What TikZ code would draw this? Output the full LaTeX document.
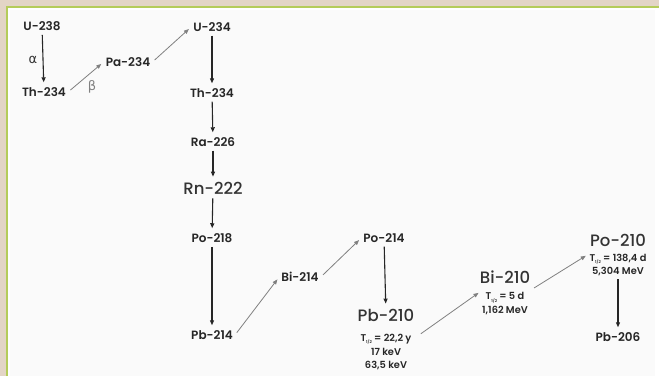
\documentclass[tikz,border=0pt]{standalone}
\usepackage{fontspec}
\setmainfont{Poppins}[BoldFont={* SemiBold}, FontFace={mb}{n}{* Medium}]
\newfontfamily\greekfont{DejaVu Sans}
\usetikzlibrary{arrows.meta}

\definecolor{framebg}{HTML}{E3D5C6}
\definecolor{frameline}{HTML}{B5CC5A}
\definecolor{panelbg}{HTML}{FAFAFA}
\newcommand{\halflife}{T\raisebox{-0.45ex}{\fontsize{4}{4}\selectfont 1/2}}

\begin{document}
\begin{tikzpicture}[x=1pt, y=-1pt,
        isotope/.style={text=black!85, font=\fontsize{12}{14}\selectfont\bfseries, inner sep=2pt},
        bigisotope/.style={text=black!80, font=\fontsize{16.5}{18}\fontseries{mb}\selectfont, inner sep=2pt},
        halfdata/.style={text=black!85, align=center, font=\fontsize{9.8}{13.8}\selectfont\bfseries, inner sep=1pt},
        alphadecay/.style={-{Triangle[length=5pt,width=4pt]}, black!85, line width=1.1pt, shorten <=2pt, shorten >=3pt},
        betadecay/.style={-{Triangle[length=5pt,width=4pt]}, gray, line width=0.8pt, shorten <=3pt, shorten >=3pt},
        ]
            % frame
            \useasboundingbox (0,0) rectangle (659,376);
            \fill[framebg] (0,0) rectangle (659,376);
            \fill[white] (8,8) rectangle (659,376);
            \fill[panelbg] (10,10) rectangle (655,376);
            \draw[frameline, line width=2pt] (7,376) -- (7,7) -- (659,7);

            % first column
            \node[isotope]  at(42,26) (u238) {U-238};
            \node[isotope]  at(44,92) (th234a) {Th-234};
            \node[text=black!80, font=\greekfont\fontsize{13}{14}\selectfont] at(33,60) (alpha) {α};
            \node[text=gray, font=\greekfont\fontsize{13}{14}\selectfont] at(92,87) (beta) {β};
            \node[isotope]  at(128,62) (pa234) {Pa-234};

            % main column
            \node[isotope]  at(212,27) (u234) {U-234};
            \node[isotope]  at(212,93) (th234b) {Th-234};
            \node[isotope]  at(213,142) (ra226) {Ra-226};
            \node[bigisotope]  at(213,188) (rn222) {Rn-222};
            \node[isotope]  at(212,238) (po218) {Po-218};
            \node[isotope]  at(212,335) (pb214) {Pb-214};

            % right part
            \node[isotope]  at(300,277) (bi214) {Bi-214};
            \node[isotope]  at(384,238) (po214) {Po-214};
            \node[bigisotope]  at(386,315) (pb210) {Pb-210};
            \node[halfdata] at(386,352) (pb210data) {\halflife{} = 22,2 y\\17 keV\\63,5 keV};
            \node[bigisotope]  at(505,277) (bi210) {Bi-210};
            \node[halfdata] at(505,303.5) (bi210data) {\halflife{} = 5 d\\1,162 MeV};
            \node[bigisotope]  at(618,240) (po210) {Po-210};
            \node[halfdata] at(618,265) (po210data) {\halflife{} = 138,4 d\\5,304 MeV};
            \node[isotope]  at(618,337) (pb206) {Pb-206};

            % decays
            \draw[alphadecay] (u238)  --  (th234a) ;
            \draw[betadecay] (th234a.east)  --  (pa234.west) ;
            \draw[betadecay] (pa234.east)  --  (u234.west) ;
            \draw[alphadecay] (u234)  --  (th234b) ;
            \draw[alphadecay] (th234b)  --  (ra226) ;
            \draw[alphadecay] (ra226)  --  (rn222) ;
            \draw[alphadecay] (rn222)  --  (po218) ;
            \draw[alphadecay] (po218)  --  (pb214) ;
            \draw[betadecay] (pb214.east)  --  (bi214.west) ;
            \draw[betadecay] (bi214.east)  --  (po214.west) ;
            \draw[alphadecay] (po214)  --  (pb210) ;
            \draw[betadecay, shorten <=10pt, shorten >=3pt] (pb210data.25)  --  (bi210data.north west) ;
            \draw[betadecay, shorten <=6pt] (bi210data.north east)  --  (po210data.160) ;
            \draw[alphadecay] (po210data)  --  (pb206) ;

            \end{tikzpicture}
\end{document}
